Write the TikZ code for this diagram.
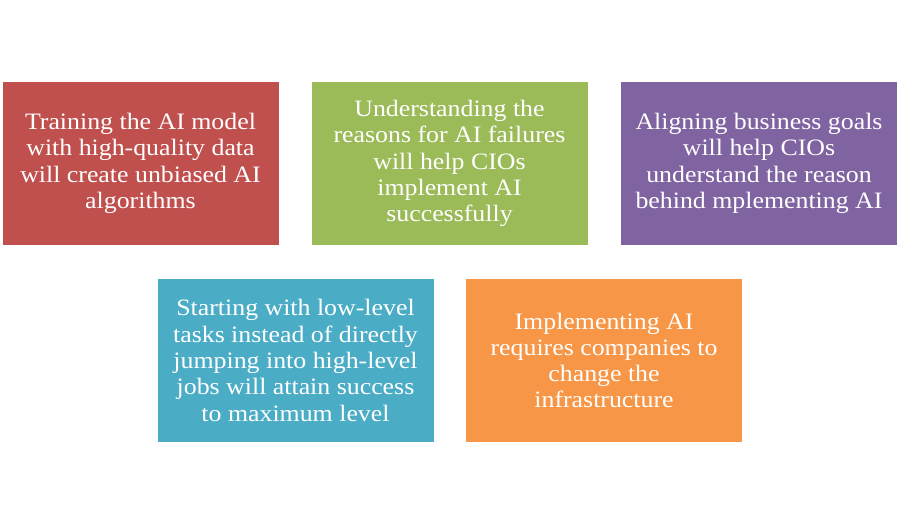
\documentclass[tikz,border=0pt]{standalone}
\usepackage{fontspec}
\setmainfont{Liberation Serif}[FakeStretch=1.1]
\definecolor{cred}{HTML}{C0504D}
\definecolor{cgreen}{HTML}{9BBB59}
\definecolor{cpurple}{HTML}{8064A2}
\definecolor{cteal}{HTML}{4BACC6}
\definecolor{corange}{HTML}{F79646}
\begin{document}
\begin{tikzpicture}[x=1pt,y=-1pt,
  card/.style={rectangle, minimum width=276pt, minimum height=163pt, inner sep=0pt,
    text=white, align=center, font=\fontsize{23.5}{26.3}\selectfont}]
\useasboundingbox[fill=white] (0,0) rectangle (904,525);
\node[card, fill=cred] (a) at (140.5,163.5) {Training the AI model\\with high-quality data\\will create unbiased AI\\algorithms};
\node[card, fill=cgreen] (b) at (449.5,163.5) {Understanding the\\reasons for AI failures\\will help CIOs\\implement AI\\successfully};
\node[card, fill=cpurple] (c) at (759,163.5) {Aligning business goals\\will help CIOs\\understand the reason\\behind mplementing AI};
\node[card, fill=cteal] (d) at (295.5,360.5) {Starting with low-level\\tasks instead of directly\\jumping into high-level\\jobs will attain success\\to maximum level};
\node[card, fill=corange] (e) at (604,360.5) {Implementing AI\\requires companies to\\change the\\infrastructure};
\end{tikzpicture}
\end{document}
